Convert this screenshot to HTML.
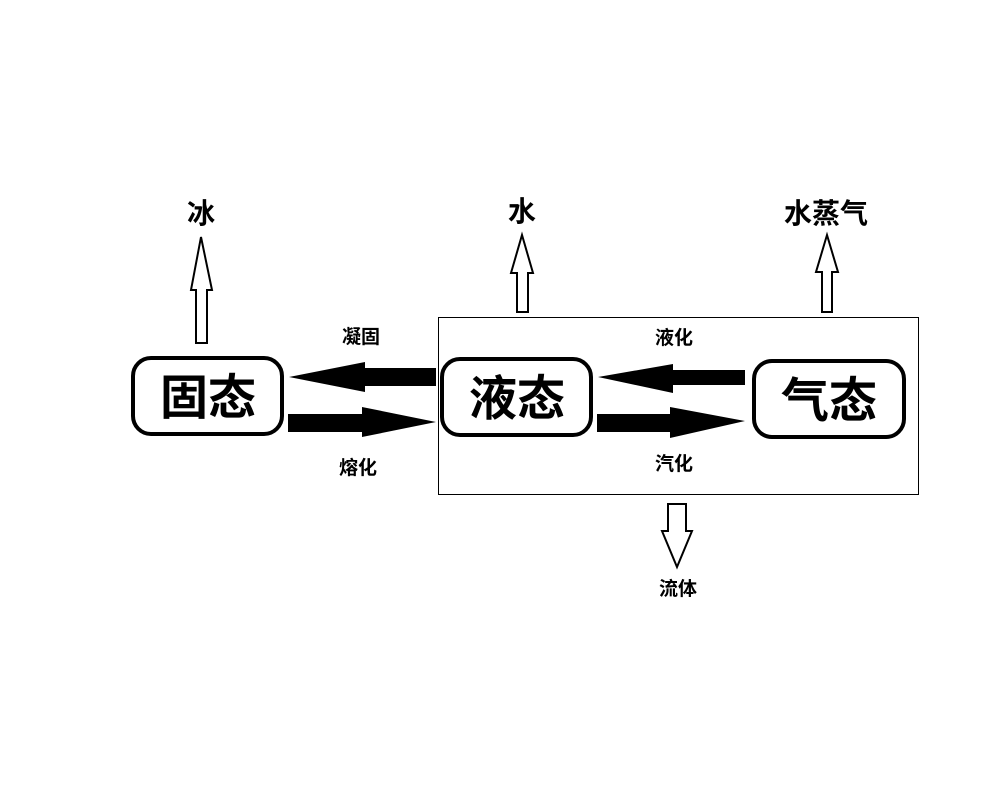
<!DOCTYPE html>
<html><head><meta charset="utf-8"><style>
html,body{margin:0;padding:0;background:#fff;}
svg{display:block;}
text{font-family:"Liberation Sans","Noto Sans CJK SC",sans-serif;font-weight:bold;fill:#000;text-anchor:middle;}
</style></head><body>
<svg width="1000" height="799" viewBox="0 0 1000 799" xmlns="http://www.w3.org/2000/svg">
<rect width="1000" height="799" fill="#fff"/>
<rect x="438.5" y="317.5" width="480" height="177" fill="none" stroke="#000" stroke-width="1"/>
<rect x="133" y="358" width="149" height="76" rx="18" fill="#fff" stroke="#000" stroke-width="4"/>
<rect x="442" y="359" width="149" height="76" rx="18" fill="#fff" stroke="#000" stroke-width="4"/>
<rect x="754" y="361" width="150" height="76" rx="18" fill="#fff" stroke="#000" stroke-width="4"/>
<text x="208" y="414" font-size="48">固态</text>
<text x="517" y="415" font-size="48">液态</text>
<text x="829" y="417" font-size="48">气态</text>
<polygon points="436,368 365,368 365,362 289,377 365,392 365,386 436,386" fill="#000"/>
<polygon points="288,414 362,414 362,407 436,422 362,437 362,432 288,432" fill="#000"/>
<polygon points="745,370 673,370 673,364 598,377 673,393 673,385 745,385" fill="#000"/>
<polygon points="597,414 670,414 670,407 745,421 670,438 670,432 597,432" fill="#000"/>
<polygon points="196,343 196,290 191,290 201,237 212,290 207,290 207,343" fill="#fff" stroke="#000" stroke-width="2"/>
<polygon points="517,312 517,273 511,273 522,235 533,273 528,273 528,312" fill="#fff" stroke="#000" stroke-width="2"/>
<polygon points="822,312 822,272 816,272 827,235 838,272 832,272 832,312" fill="#fff" stroke="#000" stroke-width="2"/>
<polygon points="668,504 686,504 686,531 692,531 677,567 662,531 668,531" fill="#fff" stroke="#000" stroke-width="2"/>
<text x="201" y="223" font-size="28">冰</text>
<text x="522" y="221" font-size="28">水</text>
<text x="826" y="223" font-size="28">水蒸气</text>
<text x="361" y="343" font-size="19">凝固</text>
<text x="358" y="474" font-size="19">熔化</text>
<text x="674" y="344" font-size="19">液化</text>
<text x="674" y="470" font-size="19">汽化</text>
<text x="678" y="595" font-size="19">流体</text>
</svg>
</body></html>
